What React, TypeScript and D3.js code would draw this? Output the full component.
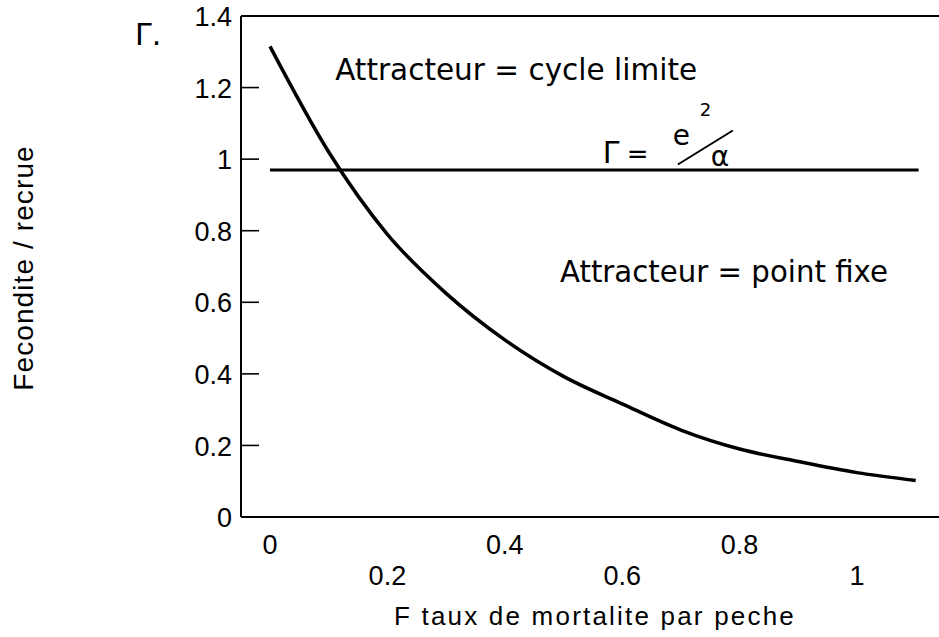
import React from 'react'
import * as d3 from 'd3'

const width = 939
const height = 637
const margin = { top: 16, left: 241, bottom: 120, right: 0 }

// courbe fecondite / recrue en fonction de F
const tauxF = [0, 0.1, 0.2, 0.3, 0.4, 0.5, 0.6, 0.7, 0.8, 0.9, 1.0, 1.1]
const fecondite = [1.315, 1.02, 0.79, 0.625, 0.495, 0.393, 0.316, 0.243, 0.19, 0.155, 0.124, 0.102]

// seuil gamma = e^2 / alpha
const seuilF = [0, 1.105]
const seuilValeur = 0.97

const xTicks = [0, 0.2, 0.4, 0.6, 0.8, 1]
const xTickLabels = ['0', '0.2', '0.4', '0.6', '0.8', '1']
const yTicks = [0, 0.2, 0.4, 0.6, 0.8, 1, 1.2, 1.4]
const yTickLabels = ['0', '0.2', '0.4', '0.6', '0.8', '1', '1.2', '1.4']

const axisFont = '"Liberation Sans", Arial, sans-serif'
const handFont = '"DejaVu Sans", sans-serif'

const App = () => {
  const x = d3.scaleLinear().domain([-0.0494, 1.1397]).range([margin.left, width - margin.right])
  const y = d3.scaleLinear().domain([0, 1.4]).range([height - margin.bottom, margin.top])

  const points: [number, number][] = tauxF.map((f, i) => [f, fecondite[i]])
  const line = d3.line<[number, number]>()
    .x(d => x(d[0]))
    .y(d => y(d[1]))
    .curve(d3.curveMonotoneX)

  const x0 = margin.left
  const x1 = width - margin.right
  const yb = y(0)
  const yt = y(1.4)

  return (
    <svg width={width} height={height} style={{ position: 'absolute', left: 0, top: 0, background: '#fff' }}>
      {/* cadre */}
      <line x1={x0} x2={x1} y1={yt} y2={yt} stroke="#000" strokeWidth={2} />
      <line x1={x0} x2={x1} y1={yb} y2={yb} stroke="#000" strokeWidth={2} />
      <line x1={x0} x2={x0} y1={yt} y2={yb} stroke="#000" strokeWidth={2} />

      {yTicks.map((t, i) => (
        <g key={'y' + i}>
          <line x1={x0} x2={x0 + 18} y1={y(t)} y2={y(t)} stroke="#000" strokeWidth={1.6} />
          <text x={x0 - 9} y={y(t) + 3} textAnchor="end" dominantBaseline="middle"
            fontFamily={axisFont} fontSize={27}>{yTickLabels[i]}</text>
        </g>
      ))}

      {xTicks.map((t, i) => (
        <text key={'x' + i} x={x(t)} y={i % 2 === 0 ? 554 : 585} textAnchor="middle"
          fontFamily={axisFont} fontSize={27}>{xTickLabels[i]}</text>
      ))}

      <text x={595} y={625} textAnchor="middle" fontFamily={axisFont} fontSize={26}
        letterSpacing={2.2}>F taux de mortalite par peche</text>
      <text transform={`translate(33, ${268}) rotate(-90)`} textAnchor="middle"
        fontFamily={axisFont} fontSize={28} letterSpacing={1.1}>Fecondite / recrue</text>

      {/* seuil et courbe */}
      <line x1={x(seuilF[0])} x2={x(seuilF[1])} y1={y(seuilValeur)} y2={y(seuilValeur)}
        stroke="#000" strokeWidth={3} />
      <path d={line(points) || ''} fill="none" stroke="#000" strokeWidth={3.5} />

      {/* annotations manuscrites */}
      <text x={135} y={45} fontFamily={handFont} fontSize={30}>Γ.</text>
      <text x={x(0.111)} y={y(1.221)} fontFamily={handFont} fontSize={30}
        textLength={362} lengthAdjust="spacingAndGlyphs">Attracteur = cycle limite</text>
      <text x={x(0.494)} y={y(0.657)} fontFamily={handFont} fontSize={30}
        textLength={328} lengthAdjust="spacingAndGlyphs">Attracteur = point fixe</text>
      <g fontFamily={handFont}>
        <text x={x(0.567)} y={y(0.99)} fontSize={30}>Γ</text>
        <text x={x(0.567) + 24} y={y(0.99)} fontSize={26}>=</text>
        <text x={x(0.567) + 70} y={y(1.04)} fontSize={28}>e</text>
        <text x={x(0.567) + 97} y={y(1.12)} fontSize={18}>2</text>
        <line x1={x(0.567) + 75} x2={x(0.567) + 130} y1={y(0.985)} y2={y(1.08)} stroke="#000" strokeWidth={2} />
        <text x={x(0.567) + 108} y={y(0.982)} fontSize={28}>α</text>
      </g>
    </svg>
  )
}

export default App
